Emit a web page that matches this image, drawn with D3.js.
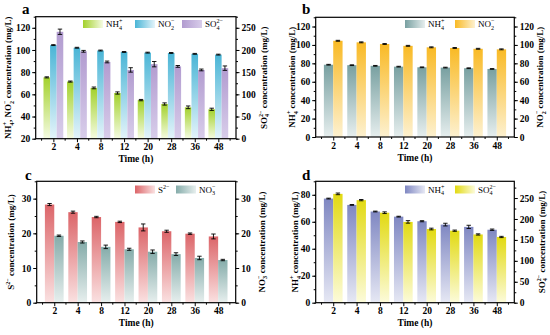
<!DOCTYPE html>
<html><head><meta charset="utf-8">
<script src="https://cdn.jsdelivr.net/npm/d3@7/dist/d3.min.js"></script>
<style>
body{margin:0;background:#fff}
text{font-family:"Liberation Serif","Times New Roman",serif;font-weight:bold;fill:#000}
</style>
</head><body>
<svg id="chart" width="550" height="335"></svg>
<script>
// ---------- data ----------
const times = ["2","4","8","12","20","28","36","48"];

// panel a (NH4+, NO2- on left axis; SO4 2- on right axis)
const aNH4    = [75.3, 71.5, 65.8, 61.2, 54.8, 51.3, 48.3, 46.5];
const aNH4Err = [0.5, 0.5, 0.8, 1.0, 0.6, 1.0, 1.2, 1.0];
const aNO2    = [104.4, 102.0, 99.5, 98.2, 97.6, 97.3, 96.5, 95.8];
const aNO2Err = [0.4, 0.4, 0.4, 0.4, 0.4, 0.4, 0.4, 0.4];
const aSO4    = [241, 197, 173, 155, 168, 163, 155, 159];
const aSO4Err = [6, 2, 2, 5, 6, 2, 2, 5];

// panel b
const bNH4    = [78.5, 78.0, 77.3, 76.4, 75.7, 75.4, 74.7, 73.9];
const bNH4Err = [0.4, 0.4, 0.4, 0.4, 0.4, 0.4, 0.4, 0.4];
const bNO2    = [104.5, 102.8, 101.0, 99.0, 97.4, 96.7, 95.8, 95.2];
const bNO2Err = [0.5, 0.5, 0.5, 0.5, 0.5, 0.5, 0.5, 0.5];

// panel c
const cS2     = [28.3, 26.1, 24.7, 23.3, 21.7, 20.6, 19.9, 19.1];
const cS2Err  = [0.3, 0.3, 0.2, 0.2, 1.0, 0.3, 0.2, 0.7];
const cNO3    = [19.3, 17.5, 16.1, 15.4, 14.7, 14.0, 12.9, 12.3];
const cNO3Err = [0.2, 0.3, 0.5, 0.3, 0.5, 0.4, 0.5, 0.2];

// panel d
const dNH4    = [77.2, 72.5, 67.6, 63.8, 60.4, 57.9, 56.2, 54.1];
const dNH4Err = [0.3, 0.3, 0.3, 0.3, 0.4, 1.0, 1.2, 0.5];
const dSO4    = [260, 245, 215, 193, 176, 172, 163, 157];
const dSO4Err = [2, 1.5, 2, 3, 2, 1.5, 1.5, 1.5];

// tick values
const aLeftTicks = [20, 40, 60, 80, 100, 120];
const aRightTicks = [0, 50, 100, 150, 200, 250];
const bTicks = [0, 20, 40, 60, 80, 100, 120];
const cTicks = [0, 10, 20, 30];
const dLeftTicks = [0, 20, 40, 60, 80];
const dRightTicks = [0, 50, 100, 150, 200, 250];

// ---------- helpers ----------
const svg = d3.select("#chart");
const defs = svg.append("defs");
let gradId = 0;
function grad(top, bottom, horizontal) {
  const id = "g" + (gradId++);
  const lg = defs.append("linearGradient").attr("id", id)
    .attr("x1", 0).attr("y1", 0)
    .attr("x2", horizontal ? 1 : 0).attr("y2", horizontal ? 0 : 1);
  lg.append("stop").attr("offset", 0).attr("stop-color", top);
  lg.append("stop").attr("offset", 1).attr("stop-color", bottom);
  return "url(#" + id + ")";
}

// rich text: parts = [[text, type]] type: n, sub, sup, supStack
function rich(sel, parts, fs) {
  let off = 0;
  parts.forEach(p => {
    const [s, t] = p;
    const ts = sel.append("tspan").text(s);
    let target = 0, size = fs;
    if (t === "sub") { target = fs * 0.3; size = fs * 0.68; }
    if (t === "sup" || t === "supStack") { target = -fs * 0.42; size = fs * 0.68; }
    ts.attr("dy", target - off).attr("font-size", size);
    if (t === "supStack") ts.attr("dx", -fs * 0.34);
    off = target;
  });
  return sel;
}

const NH4 = [["NH","n"],["4","sub"],["+","supStack"]];
const NO2 = [["NO","n"],["2","sub"],["−","supStack"]];
const NO3 = [["NO","n"],["3","sub"],["−","supStack"]];
const SO4 = [["SO","n"],["4","sub"],["2−","supStack"]];
const S2  = [["S","n"],["2−","sup"]];
const conc = [[" concentration (mg/L)","n"]];

function panel(cfg) {
  const g = svg.append("g");
  const x = d3.scalePoint().domain(times).range([cfg.x0, cfg.x1]).padding(0.75);
  const step = x.step();
  const yL = d3.scaleLinear().domain(cfg.left).range([cfg.bottom, cfg.top]);
  const yR = d3.scaleLinear().domain(cfg.right).range([cfg.bottom, cfg.top]);
  const k = cfg.series.length;
  const bw = step * (k === 3 ? 0.28 : 0.4);

  cfg.series.forEach((s, i) => {
    const y = s.axis === "R" ? yR : yL;
    const fill = grad(s.c1, s.c2, false);
    const off = (i - (k - 1) / 2) * bw;
    g.append("g").selectAll("rect").data(s.vals).join("rect")
      .attr("x", (d, j) => x(times[j]) + off - bw / 2)
      .attr("y", d => y(d))
      .attr("width", bw)
      .attr("height", d => cfg.bottom - y(d))
      .attr("fill", fill);
    const eg = g.append("g").attr("stroke", "#000").attr("stroke-width", 0.9);
    s.vals.forEach((d, j) => {
      const cx = x(times[j]) + off;
      const e = s.err[j];
      const y1 = y(d + e), y2 = y(d - e);
      eg.append("line").attr("x1", cx).attr("x2", cx).attr("y1", y1).attr("y2", y2);
      eg.append("line").attr("x1", cx - 2.2).attr("x2", cx + 2.2).attr("y1", y1).attr("y2", y1);
      eg.append("line").attr("x1", cx - 2.2).attr("x2", cx + 2.2).attr("y1", y2).attr("y2", y2);
    });
  });

  // axes
  const fs = 9.5;
  function styleAxis(a) {
    a.select(".domain").remove();
    a.selectAll(".tick line").attr("stroke", "#000").attr("stroke-width", 1);
    a.selectAll(".tick text").attr("font-size", fs).attr("font-family", null)
      .style("font-family", '"Liberation Serif","Times New Roman",serif').style("font-weight", "bold");
  }
  const minorL = d3.range(cfg.left[0], cfg.left[1] + 1e-9, cfg.lMinor);
  const minorR = d3.range(cfg.right[0], cfg.right[1] + 1e-9, cfg.rMinor);
  styleAxis(g.append("g").attr("transform", `translate(${cfg.x0},0)`)
    .call(d3.axisLeft(yL).tickValues(minorL).tickSize(2).tickFormat("")));
  styleAxis(g.append("g").attr("transform", `translate(${cfg.x0},0)`)
    .call(d3.axisLeft(yL).tickValues(cfg.lTicks).tickSize(3.5).tickPadding(2)));
  styleAxis(g.append("g").attr("transform", `translate(${cfg.x1},0)`)
    .call(d3.axisRight(yR).tickValues(minorR).tickSize(2).tickFormat("")));
  styleAxis(g.append("g").attr("transform", `translate(${cfg.x1},0)`)
    .call(d3.axisRight(yR).tickValues(cfg.rTicks).tickSize(3.5).tickPadding(2)));
  const xa = g.append("g").attr("transform", `translate(0,${cfg.bottom})`)
    .call(d3.axisBottom(x).tickSize(3.5).tickPadding(1.5));
  styleAxis(xa);
  // minor ticks on x between categories
  const mg = g.append("g").attr("stroke", "#000");
  times.slice(0, -1).forEach((t, j) => {
    const mx = (x(t) + x(times[j + 1])) / 2;
    mg.append("line").attr("x1", mx).attr("x2", mx).attr("y1", cfg.bottom).attr("y2", cfg.bottom + 2);
  });
  [x(times[0]) - step / 2, x(times[times.length - 1]) + step / 2].forEach(mx => {
    mg.append("line").attr("x1", mx).attr("x2", mx).attr("y1", cfg.bottom).attr("y2", cfg.bottom + 2);
  });
  // frame
  g.append("rect").attr("x", cfg.x0).attr("y", cfg.top)
    .attr("width", cfg.x1 - cfg.x0).attr("height", cfg.bottom - cfg.top)
    .attr("fill", "none").attr("stroke", "#000").attr("stroke-width", 1.2);

  // titles
  g.append("text").attr("x", (cfg.x0 + cfg.x1) / 2).attr("y", cfg.bottom + 23.5)
    .attr("text-anchor", "middle").attr("font-size", 9.5).text("Time (h)");
  const cy = (cfg.top + cfg.bottom) / 2;
  rich(g.append("text").attr("transform", `translate(${cfg.lTitleX},${cy}) rotate(-90)`)
    .attr("text-anchor", "middle").attr("font-size", 9), cfg.lTitle.concat(conc), 9);
  rich(g.append("text").attr("transform", `translate(${cfg.rTitleX},${cy}) rotate(-90)`)
    .attr("text-anchor", "middle").attr("font-size", 9), cfg.rTitle.concat(conc), 9);

  // panel letter
  g.append("text").attr("x", cfg.letterX).attr("y", cfg.letterY)
    .attr("font-size", 15).text(cfg.letter);

  // legend
  cfg.series.forEach((s, i) => {
    const lx = cfg.legX[i], ly = cfg.legY;
    g.append("rect").attr("x", lx).attr("y", ly).attr("width", 20).attr("height", 8)
      .attr("fill", grad(s.c1, s.c2, true));
    rich(g.append("text").attr("x", lx + 23).attr("y", ly + 7).attr("font-size", 9)
      .style("font-weight", "normal"), s.label, 9);
  });
}

panel({
  letter: "a", letterX: 22, letterY: 14,
  x0: 35.7, x1: 236, top: 16.7, bottom: 138.7,
  left: [20, 130], right: [0, 275], lTicks: aLeftTicks, rTicks: aRightTicks, lMinor: 10, rMinor: 25,
  lTitleX: 11, rTitleX: 266.5,
  lTitle: NH4.concat([[", ","n"]], NO2), rTitle: SO4,
  legX: [83, 135, 182], legY: 20,
  series: [
    {vals: aNH4, err: aNH4Err, axis: "L", c1: "#a3d12c", c2: "#f5fbe2", label: NH4},
    {vals: aNO2, err: aNO2Err, axis: "L", c1: "#4ab5d6", c2: "#e4f4fa", label: NO2},
    {vals: aSO4, err: aSO4Err, axis: "R", c1: "#b29cd0", c2: "#d8cdea", label: SO4}
  ]
});

panel({
  letter: "b", letterX: 302, letterY: 14,
  x0: 315.7, x1: 514.3, top: 17.3, bottom: 137,
  left: [0, 130], right: [0, 130], lTicks: bTicks, rTicks: bTicks, lMinor: 10, rMinor: 10,
  lTitleX: 295, rTitleX: 543,
  lTitle: NH4, rTitle: NO2,
  legX: [405, 455], legY: 20,
  series: [
    {vals: bNH4, err: bNH4Err, axis: "L", c1: "#78a0a1", c2: "#e6eeee", label: NH4},
    {vals: bNO2, err: bNO2Err, axis: "R", c1: "#f9ba25", c2: "#fdf1d0", label: NO2}
  ]
});

panel({
  letter: "c", letterX: 25, letterY: 180,
  x0: 36.7, x1: 235.7, top: 181.3, bottom: 302.7,
  left: [0, 35], right: [0, 35], lTicks: cTicks, rTicks: cTicks, lMinor: 5, rMinor: 5,
  lTitleX: 13.5, rTitleX: 264.5,
  lTitle: S2, rTitle: NO3,
  legX: [135, 176], legY: 185.5,
  series: [
    {vals: cS2, err: cS2Err, axis: "L", c1: "#dc6569", c2: "#fae1e1", label: S2},
    {vals: cNO3, err: cNO3Err, axis: "R", c1: "#85acaa", c2: "#e7efee", label: NO3}
  ]
});

panel({
  letter: "d", letterX: 302, letterY: 180,
  x0: 315.7, x1: 514.3, top: 181.3, bottom: 302.7,
  left: [0, 90], right: [0, 290], lTicks: dLeftTicks, rTicks: dRightTicks, lMinor: 10, rMinor: 25,
  lTitleX: 298, rTitleX: 544.5,
  lTitle: NH4, rTitle: SO4,
  legX: [405, 455], legY: 185.5,
  series: [
    {vals: dNH4, err: dNH4Err, axis: "L", c1: "#7f87c2", c2: "#e6e8f4", label: NH4},
    {vals: dSO4, err: dSO4Err, axis: "R", c1: "#e2da12", c2: "#fcfbda", label: SO4}
  ]
});
</script>
</body></html>
